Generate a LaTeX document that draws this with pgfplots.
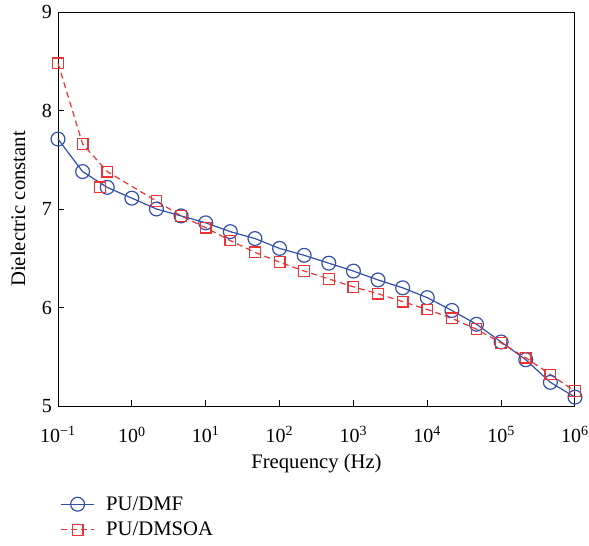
\documentclass[border=0pt]{standalone}
\usepackage{pgfplots}
\pgfplotsset{compat=1.18}
\usepackage{fontspec}
\setmainfont{Liberation Serif}
\definecolor{cblue}{RGB}{50,80,170}
\definecolor{cred}{RGB}{240,50,50}
\pgfplotstableread{
x y
0.1 7.71
0.2154 7.38
0.4642 7.22
1 7.11
2.154 7.00
4.642 6.93
10 6.86
21.54 6.77
46.42 6.70
100 6.60
215.4 6.53
464.2 6.45
1000 6.37
2154 6.28
4642 6.20
10000 6.10
21544 5.97
46416 5.83
100000 5.65
215443 5.47
464159 5.24
1000000 5.09
}\dmf
\pgfplotstableread{
x y
0.1 8.48
0.2154 7.66
0.4642 7.38
2.154 7.08
4.642 6.93
10 6.81
21.54 6.68
46.42 6.56
100 6.46
215.4 6.37
464.2 6.29
1000 6.21
2154 6.14
4642 6.06
10000 5.98
21544 5.89
46416 5.78
100000 5.64
215443 5.49
464159 5.32
1000000 5.15
}\dmsoa
\begin{document}
\begin{tikzpicture}
\begin{axis}[
  scale only axis,
  width=387.75pt, height=295.5pt,
  xmode=log, xmin=0.1, xmax=1e6, ymin=5, ymax=9,
  log basis x=10,
  xtick={0.1,1,10,100,1000,10000,100000,1000000},
  xticklabels={10\textsuperscript{−1},10\textsuperscript{0},10\textsuperscript{1},10\textsuperscript{2},10\textsuperscript{3},10\textsuperscript{4},10\textsuperscript{5},10\textsuperscript{6}},
  minor xtick={},
  ytick={5,6,7,8,9},
  tick pos=left, tick align=inside,
  major tick length=4.5pt,
  axis line style={line width=0.75pt},
  every tick/.style={black, line width=0.75pt},
  /pgf/number format/assume math mode=true,
  tick label style={font=\fontsize{15pt}{18pt}\selectfont},
  label style={font=\fontsize{15.5pt}{18pt}\selectfont},
  xlabel={Frequency (Hz)},
  ylabel={Dielectric constant},
  xlabel style={at={(axis description cs:0.5,-0.147)}, anchor=center},
  ylabel style={at={(axis description cs:-0.0775,0.5)}, anchor=center},
  xticklabel style={yshift=-12pt, inner xsep=0pt},
  yticklabel style={xshift=-1pt},
  legend style={draw=none, at={(axis description cs:0.004,-0.222)}, anchor=north west, inner sep=0pt, font=\fontsize{15.5pt}{18pt}\selectfont, row sep=3.5pt, column sep=6.5pt, fill=none},
  legend cell align=left,
  legend image code/.code={\draw[mark repeat=2,mark phase=2,#1] plot coordinates {(0pt,0pt) (12.5pt,0pt) (25pt,0pt)};},
  clip=false,
]
\addplot[cblue, line width=0.9pt, mark=o, mark size=5.2pt, mark options={fill=white, solid, line width=0.9pt}] table[x=x,y=y]{\dmf};
\addlegendentry{PU/DMF}
\addplot[cred, line width=0.9pt, dash pattern=on 4.5pt off 3pt, mark=square, mark size=4pt, mark options={fill=white, solid, line width=0.9pt}] table[x=x,y=y]{\dmsoa};
\addlegendentry{PU/DMSOA}
\addplot[cred, only marks, mark=square, mark size=4pt, mark options={fill=white, solid, line width=0.9pt}, forget plot] coordinates {(0.37,7.22)};
\path (axis description cs:-0.1122,-0.3553) rectangle (axis description cs:1.0271,1.0305);
\end{axis}
\end{tikzpicture}
\end{document}
